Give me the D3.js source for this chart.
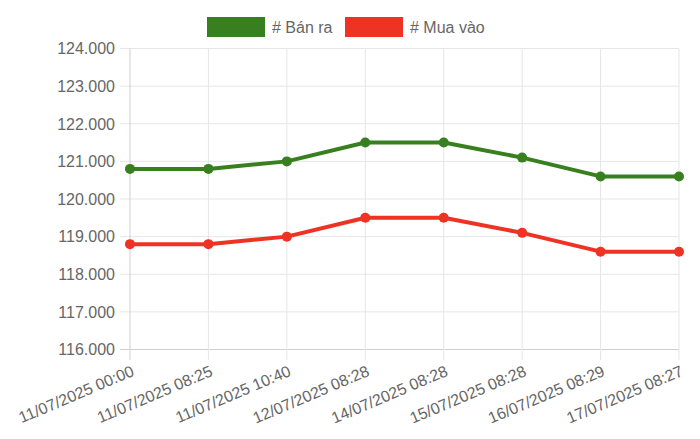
<!DOCTYPE html>
<html>
<head>
<meta charset="utf-8">
<script src="https://cdn.jsdelivr.net/npm/d3@7"></script>
<style>
  body { margin: 0; background: #fff; }
  text { font-family: "Liberation Sans", Arial, Helvetica, sans-serif; }
</style>
</head>
<body>
<div id="viz-container"></div>
<script>
// data
let labels = ['11/07/2025 00:00','11/07/2025 08:25','11/07/2025 10:40','12/07/2025 08:28',
              '14/07/2025 08:28','15/07/2025 08:28','16/07/2025 08:29','17/07/2025 08:27'];
let banRa  = [120800,120800,121000,121500,121500,121100,120600,120600];
let muaVao = [118800,118800,119000,119500,119500,119100,118600,118600];
let yTicks = [116000,117000,118000,119000,120000,121000,122000,123000,124000];
let seriesNames = ['# Bán ra','# Mua vào'];
let seriesColors = ['#38801f','#ee3224'];

let viz = d3.select('#viz-container')
  .append('svg')
    .attr('width',700)
    .attr('height',439)
;

let x = d3.scalePoint().domain(labels).range([130,679]);
let y = d3.scaleLinear().domain([116000,124000]).range([349.5,48.5]);

let fmt = d => d3.format(',.0f')(d).replace(/,/g,'.') ;

// horizontal grid + y labels
viz.selectAll('.hgrid').data(yTicks).enter()
  .append('line')
    .attr('x1',120)
    .attr('x2',679)
    .attr('y1',d => y(d))
    .attr('y2',d => y(d))
    .attr('stroke', d => d == 116000 ? '#cfcfcf' : '#e6e6e6')
    .attr('stroke-width',1)
;
viz.selectAll('.ylab').data(yTicks).enter()
  .append('text')
    .attr('x',115)
    .attr('y',d => y(d))
    .attr('dy','0.36em')
    .attr('text-anchor','end')
    .attr('font-size',16)
    .attr('fill','#666')
    .text(fmt)
;

// vertical grid + x labels
viz.selectAll('.vgrid').data(labels).enter()
  .append('line')
    .attr('x1',d => x(d))
    .attr('x2',d => x(d))
    .attr('y1',48.5)
    .attr('y2',360)
    .attr('stroke', (d,i) => i == 0 ? '#cfcfcf' : '#e6e6e6')
    .attr('stroke-width',1)
;
viz.selectAll('.xlab').data(labels).enter()
  .append('text')
    .attr('transform',d => 'translate(' + (x(d)+3) + ',370) rotate(-23)')
    .attr('text-anchor','end')
    .attr('dy','0.35em')
    .attr('font-size',16)
    .attr('fill','#666')
    .text(d => d)
;

// lines + points
let line = d3.line()
  .x((d,i) => x(labels[i]))
  .y(d => y(d));

[banRa, muaVao].forEach((vals,k) => {
  viz.append('path')
    .attr('d',line(vals))
    .attr('fill','none')
    .attr('stroke',seriesColors[k])
    .attr('stroke-width',4)
    .attr('stroke-linejoin','round');
  viz.selectAll('.pt'+k).data(vals).enter()
    .append('circle')
      .attr('cx',(d,i) => x(labels[i]))
      .attr('cy',d => y(d))
      .attr('r',5)
      .attr('fill',seriesColors[k]);
});

// legend
let legendX = [207, 345];
seriesNames.forEach((name,k) => {
  viz.append('rect')
    .attr('x',legendX[k])
    .attr('y',17)
    .attr('width',58)
    .attr('height',20)
    .attr('fill',seriesColors[k]);
  viz.append('text')
    .attr('x',legendX[k]+65)
    .attr('y',27)
    .attr('dy','0.36em')
    .attr('font-size',16)
    .attr('fill','#666')
    .text(name);
});
</script>
</body>
</html>
